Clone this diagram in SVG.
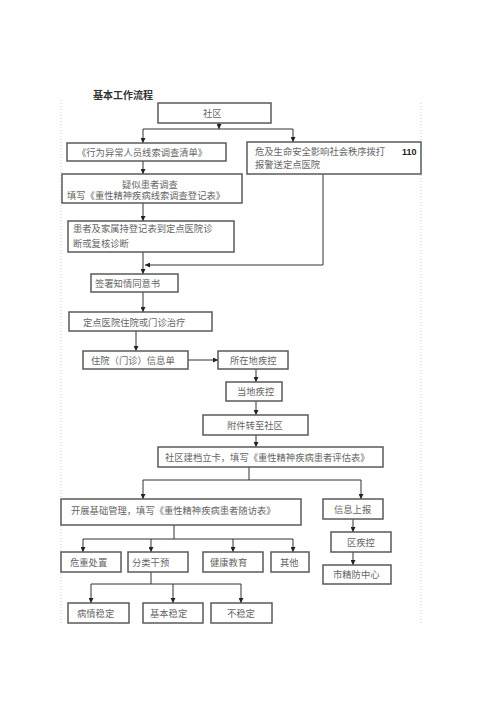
<svg xmlns="http://www.w3.org/2000/svg" width="500" height="708" viewBox="0 0 500 708">
<style>
.b{fill:#fff;stroke:#5a5a5a;stroke-width:1.5}
.t{font-family:"Liberation Serif","Noto Sans CJK SC",serif;font-size:9.3px;fill:#666}
.c{fill:none;stroke:#333;stroke-width:1}
.pg{fill:none;stroke:#ccc;stroke-width:1;stroke-dasharray:1 2}
</style>
<defs>
<marker id="a" viewBox="0 0 6 6" refX="6" refY="3" markerWidth="5" markerHeight="5" orient="auto" markerUnits="userSpaceOnUse">
<path d="M0,0 L6,3 L0,6 Z" fill="#222"/>
</marker>
</defs>
<rect width="500" height="708" fill="#fff"/>
<line class="pg" x1="61" y1="100" x2="61" y2="625"/>
<line class="pg" x1="421" y1="103" x2="421" y2="625"/>
<text x="93" y="99" style="font-family:'Liberation Serif','Noto Sans CJK SC',serif;font-size:10px;font-weight:bold;fill:#333">基本工作流程</text>
<g id="connectors">
<path class="c" d="M219,123 V129" marker-end="url(#a)"/>
<path class="c" d="M143,129 H293"/>
<path class="c" d="M143,129 V143" marker-end="url(#a)"/>
<path class="c" d="M293,129 V142" marker-end="url(#a)"/>
<path class="c" d="M143,161 V174" marker-end="url(#a)"/>
<path class="c" d="M143,203 V221" marker-end="url(#a)"/>
<path class="c" d="M323,174 V265 H145" marker-end="url(#a)"/>
<path class="c" d="M143,252 V274" marker-end="url(#a)"/>
<path class="c" d="M143,292 V312" marker-end="url(#a)"/>
<path class="c" d="M136,331 V351" marker-end="url(#a)"/>
<path class="c" d="M188,360 H218" marker-end="url(#a)"/>
<path class="c" d="M256,369 V382" marker-end="url(#a)"/>
<path class="c" d="M256,401 V415" marker-end="url(#a)"/>
<path class="c" d="M256,435 V447" marker-end="url(#a)"/>
<path class="c" d="M249,467 V480"/>
<path class="c" d="M143,480 H361"/>
<path class="c" d="M143,480 V499" marker-end="url(#a)"/>
<path class="c" d="M361,480 V499" marker-end="url(#a)"/>
<path class="c" d="M353,519 V532" marker-end="url(#a)"/>
<path class="c" d="M353,552 V565" marker-end="url(#a)"/>
<path class="c" d="M174,525 V539"/>
<path class="c" d="M83,539 H293"/>
<path class="c" d="M83,539 V552" marker-end="url(#a)"/>
<path class="c" d="M151,539 V552" marker-end="url(#a)"/>
<path class="c" d="M233,539 V552" marker-end="url(#a)"/>
<path class="c" d="M293,539 V552" marker-end="url(#a)"/>
<path class="c" d="M151,572 V584"/>
<path class="c" d="M91,584 H241"/>
<path class="c" d="M91,584 V603" marker-end="url(#a)"/>
<path class="c" d="M173,584 V603" marker-end="url(#a)"/>
<path class="c" d="M241,584 V603" marker-end="url(#a)"/>
</g>
<g id="n1"><rect class="b" x="158" y="103" width="113" height="20"/><text class="t" x="203" y="116.5">社区</text></g>
<g id="n2"><rect class="b" x="67" y="143" width="159" height="18"/><text class="t" x="77" y="155.5">《行为异常人员线索调查清单》</text></g>
<g id="n3"><rect class="b" x="247" y="142" width="174" height="32"/><text class="t" x="255" y="154.5">危及生命安全影响社会秩序拨打</text><text class="t" x="255" y="167.5">报警送定点医院</text><text x="402" y="155" style="font-family:'Liberation Sans',sans-serif;font-size:9px;font-weight:bold;fill:#222">110</text></g>
<g id="n4"><rect class="b" x="62" y="174" width="180" height="29"/><text class="t" x="150" y="187.5" text-anchor="middle">疑似患者调查</text><text class="t" x="67" y="198.5">填写《重性精神疾病线索调查登记表》</text></g>
<g id="n5"><rect class="b" x="68" y="221" width="166" height="31"/><text class="t" x="73" y="231.5">患者及家属持登记表到定点医院诊</text><text class="t" x="73" y="246.5">断或复核诊断</text></g>
<g id="n6"><rect class="b" x="91" y="274" width="87" height="18"/><text class="t" x="95" y="286.5">签署知情同意书</text></g>
<g id="n7"><rect class="b" x="69" y="312" width="143" height="19"/><text class="t" x="83" y="325.5">定点医院住院或门诊治疗</text></g>
<g id="n8"><rect class="b" x="83" y="351" width="105" height="18"/><text class="t" x="91" y="363.5">住院（门诊）信息单</text></g>
<g id="n9"><rect class="b" x="218" y="351" width="70" height="18"/><text class="t" x="230" y="363.5">所在地疾控</text></g>
<g id="n10"><rect class="b" x="226" y="382" width="56" height="19"/><text class="t" x="237" y="395">当地疾控</text></g>
<g id="n11"><rect class="b" x="203" y="415" width="105" height="20"/><text class="t" x="227" y="428.5">附件转至社区</text></g>
<g id="n12"><rect class="b" x="158" y="447" width="225" height="20"/><text class="t" x="165" y="460.5">社区建档立卡，填写《重性精神疾病患者评估表》</text></g>
<g id="n13"><rect class="b" x="61" y="499" width="240" height="26"/><text class="t" x="71" y="514">开展基础管理，填写《重性精神疾病患者随访表》</text></g>
<g id="n14"><rect class="b" x="323" y="499" width="60" height="20"/><text class="t" x="334" y="512.5">信息上报</text></g>
<g id="n15"><rect class="b" x="331" y="532" width="60" height="20"/><text class="t" x="347" y="545.5">区疾控</text></g>
<g id="n16"><rect class="b" x="323" y="565" width="68" height="19"/><text class="t" x="333" y="578">市精防中心</text></g>
<g id="n17"><rect class="b" x="61" y="552" width="60" height="20"/><text class="t" x="70" y="565.5">危重处置</text></g>
<g id="n18"><rect class="b" x="128" y="552" width="60" height="20"/><text class="t" x="132" y="565.5">分类干预</text></g>
<g id="n19"><rect class="b" x="203" y="552" width="60" height="20"/><text class="t" x="210" y="565.5">健康教育</text></g>
<g id="n20"><rect class="b" x="271" y="552" width="38" height="20"/><text class="t" x="280" y="565.5">其他</text></g>
<g id="n21"><rect class="b" x="68" y="603" width="61" height="20"/><text class="t" x="77" y="616.5">病情稳定</text></g>
<g id="n22"><rect class="b" x="143" y="603" width="60" height="20"/><text class="t" x="150" y="616.5">基本稳定</text></g>
<g id="n23"><rect class="b" x="211" y="603" width="61" height="20"/><text class="t" x="227" y="616.5">不稳定</text></g>
</svg>
